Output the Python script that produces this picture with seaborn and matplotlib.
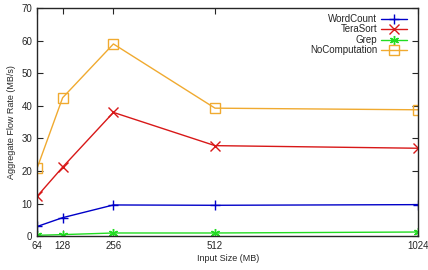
import numpy as np
import pandas as pd
import matplotlib
matplotlib.use("Agg")
import matplotlib.pyplot as plt
import seaborn as sns

# dane
input_sizes = [64, 128, 256, 512, 1024]
wordcount = [3.0, 5.7, 9.6, 9.5, 9.7]
terasort = [12.3, 21.2, 38.0, 27.8, 27.0]
grep = [0.3, 0.5, 1.0, 1.0, 1.3]
nocomputation = [21.0, 42.5, 59.0, 39.3, 38.8]

series_names = ["WordCount", "TeraSort", "Grep", "NoComputation"]
series_values = [wordcount, terasort, grep, nocomputation]
colors = ["#0000c8", "#d81818", "#22dd22", "#f0aa30"]
markers = ["+", "x", (6, 2, 0), "s"]

sns.set_style("ticks")
plt.rcParams["font.family"] = ["Liberation Sans", "DejaVu Sans"]

fig, ax = plt.subplots(figsize=(4.28, 2.70), dpi=100)

for name, vals, col, mk in zip(series_names, series_values, colors, markers):
    df = pd.DataFrame({"size": input_sizes, "rate": vals})
    sns.lineplot(data=df, x="size", y="rate", ax=ax, color=col, marker=mk,
                 markersize=6.5, markerfacecolor="none", markeredgecolor=col,
                 markeredgewidth=1.0, linewidth=1.0, label=name)

ax.set_xlim(64, 1024)
ax.set_ylim(0, 70)
ax.set_xticks(input_sizes)
ax.set_yticks(range(0, 71, 10))
ax.tick_params(direction="in", top=True, right=True, labelsize=7, length=4, width=0.8)
for sp in ax.spines.values():
    sp.set_linewidth(1.0)
    sp.set_visible(True)

ax.set_xlabel("Input Size (MB)", fontsize=6.5, labelpad=2)
ax.set_ylabel("Aggregate Flow Rate (MB/s)", fontsize=6.5, labelpad=4)

leg = ax.legend(loc="upper right", markerfirst=False, frameon=False, fontsize=7,
                handlelength=2.6, labelspacing=0.05, borderaxespad=0.2,
                handletextpad=0.4, bbox_to_anchor=(0.985, 1.0))
for t in leg.get_texts():
    t.set_ha("right")

plt.subplots_adjust(left=0.087, right=0.977, top=0.97, bottom=0.125)
plt.savefig("out.png", dpi=100)
plt.close()
